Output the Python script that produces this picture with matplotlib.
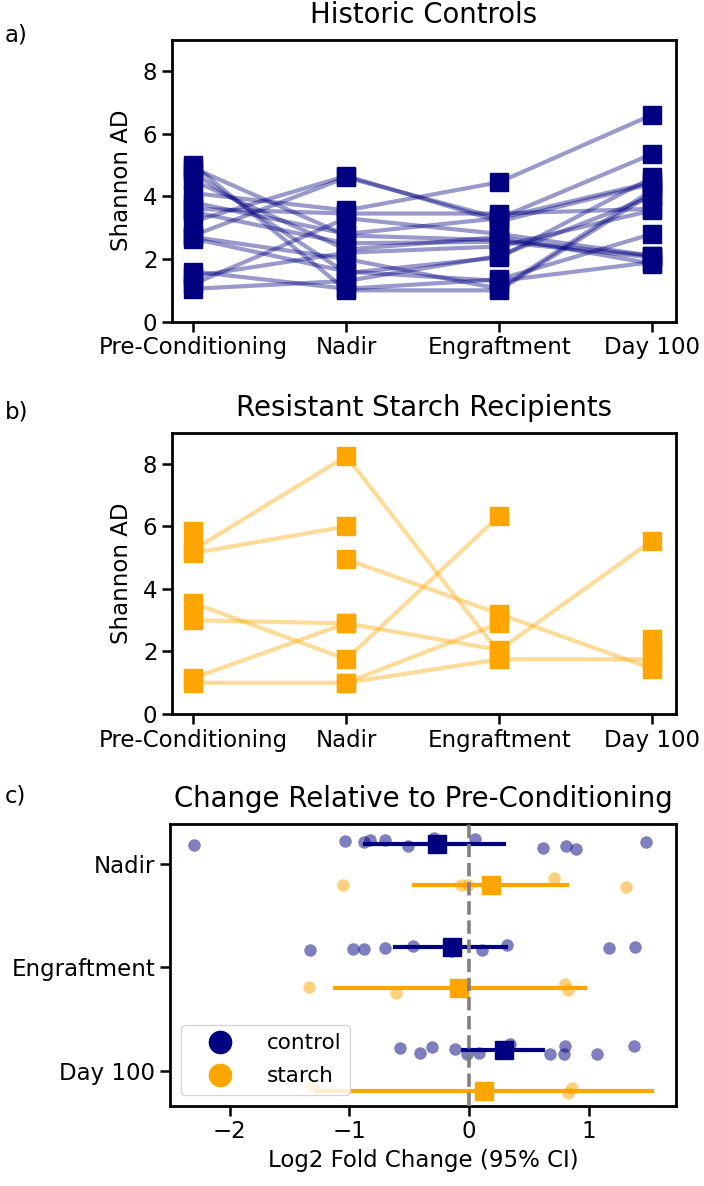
import numpy as np
import matplotlib
matplotlib.use("Agg")
import matplotlib.pyplot as plt
from matplotlib.lines import Line2D

timepoints = ["Pre-Conditioning", "Nadir", "Engraftment", "Day 100"]

# Shannon AD per subject (same index = same subject), historic controls
ctrl_pre = [5.0, 4.9, 4.75, 4.5, 4.1, 3.8, 3.6, 3.5, 3.2, 2.75, 2.65, 1.6, 1.45, 1.2, 1.05, 2.7]
ctrl_nadir = [1.0, 2.75, 1.55, 2.3, 3.55, 2.8, 3.45, 2.5, 4.65, 4.6, 1.6, 1.05, 2.2, 3.3, 1.3, 2.0]
ctrl_engraft = [1.0, 2.6, 2.05, 2.7, 4.45, 3.3, 3.45, 2.55, 3.2, 3.3, 1.3, 1.35, 2.4, 2.8, 2.1, 1.05]
ctrl_day100 = [4.1, 2.1, 4.6, 1.85, 6.6, 4.45, 3.6, 2.05, 4.4, 5.35, 1.9, 2.8, 3.55, 2.1, 4.0, 4.2]

# resistant starch recipients (nan = no sample)
nan = np.nan
starch_pre = [5.25, 5.15, 5.85, nan, 3.55, 3.0, 1.15, 1.0, nan, nan, nan, nan]
starch_nadir = [8.25, 6.0, nan, 4.95, 1.75, 2.9, 2.9, 1.0, 1.0, nan, nan, nan]
starch_engraft = [1.95, nan, nan, 3.2, 6.35, 2.05, nan, 2.9, 1.75, nan, nan, nan]
starch_day100 = [nan, nan, nan, 1.45, nan, 5.55, nan, nan, 1.75, nan, 2.4, 2.1]

# log2 fold change vs pre-conditioning
fc_labels = ["Nadir", "Engraftment", "Day 100"]
ctrl_fc = [
    [-2.30, -1.04, -0.88, -0.83, -0.70, -0.51, -0.29, 0.05, 0.62, 0.81, 0.89, 1.48],
    [-1.33, -0.97, -0.88, -0.70, -0.47, -0.15, 0.11, 0.32, 1.17, 1.39],
    [-0.58, -0.41, -0.31, -0.12, -0.02, 0.08, 0.34, 0.68, 0.79, 0.80, 1.07, 1.38],
]
starch_fc = [
    [-1.05, -0.07, -0.01, 0.71, 1.31],
    [-1.34, -0.61, 0.80, 0.83],
    [-1.31, 0.86, 0.83],
]
# strip jitter
ctrl_jit = [
    [0.016, -0.026, -0.016, -0.039, -0.032, 0.026, -0.058, -0.048, 0.039, 0.026, 0.048, -0.016],
    [0.032, 0.023, 0.026, 0.01, -0.006, 0.042, 0.032, -0.016, 0.016, 0.0],
    [-0.023, 0.026, -0.032, -0.013, 0.042, 0.026, -0.055, 0.035, 0.035, -0.039, 0.035, -0.039],
]
starch_jit = [
    [0.006, 0.0, 0.006, -0.065, 0.016],
    [-0.01, 0.048, -0.039, 0.016],
    [-0.055, -0.032, 0.019],
]
ctrl_mean = [-0.265, -0.145, 0.29]
ctrl_ci_lo = [-0.87, -0.62, -0.05]
ctrl_ci_hi = [0.29, 0.31, 0.62]
starch_mean = [0.18, -0.08, 0.125]
starch_ci_lo = [-0.46, -1.12, -1.28]
starch_ci_hi = [0.82, 0.97, 1.53]

plt.rcParams["font.size"] = 16.5
plt.rcParams["axes.linewidth"] = 2.0
for a in ("xtick", "ytick"):
    plt.rcParams[a + ".major.size"] = 7
    plt.rcParams[a + ".major.width"] = 1.8

W, H = 704, 1186
fig = plt.figure(figsize=(W / 100, H / 100), dpi=100)


def box(left, top, right, bottom):
    return [left / W, 1 - bottom / H, (right - left) / W, (bottom - top) / H]


ax1 = fig.add_axes(box(172, 39.5, 676, 321.7))
ax2 = fig.add_axes(box(172, 432.7, 676, 714))
ax3 = fig.add_axes(box(170, 824, 676, 1105.7))

x = np.arange(len(timepoints))


def traj(ax, cols, color):
    for vals in zip(*cols):
        ax.plot(x, vals, color=color, alpha=0.4, lw=3, zorder=2)
    for i, col in enumerate(cols):
        ax.plot([i] * len(col), col, ls="", marker="s", ms=13,
                color=color, zorder=3)
    ax.set_xticks(x)
    ax.set_xticklabels(timepoints)
    ax.set_xlim(-0.14, 3.155)
    ax.set_ylim(0, 9)
    ax.set_yticks([0, 2, 4, 6, 8])
    ax.set_ylabel("Shannon AD", labelpad=7)


traj(ax1, [ctrl_pre, ctrl_nadir, ctrl_engraft, ctrl_day100], "navy")
ax1.set_title("Historic Controls", pad=12)
traj(ax2, [starch_pre, starch_nadir, starch_engraft, starch_day100], "orange")
ax2.set_title("Resistant Starch Recipients", pad=12)

# panel c
for k in range(len(fc_labels)):
    yc = k - 0.2
    ys = k + 0.2
    ax3.scatter(ctrl_fc[k], [yc + j for j in ctrl_jit[k]], s=81,
                color="navy", alpha=0.5, lw=0, zorder=2)
    ax3.scatter(starch_fc[k], [ys + j for j in starch_jit[k]], s=81,
                color="orange", alpha=0.5, lw=0, zorder=2)
    ax3.plot([ctrl_ci_lo[k], ctrl_ci_hi[k]], [yc, yc], color="navy", lw=3, zorder=3)
    ax3.plot([starch_ci_lo[k], starch_ci_hi[k]], [ys, ys], color="orange", lw=3, zorder=3)
    ax3.plot(ctrl_mean[k], yc, marker="s", ms=13, color="navy", zorder=4)
    ax3.plot(starch_mean[k], ys, marker="s", ms=13, color="orange", zorder=4)

ax3.axvline(0, color="gray", ls="--", lw=2.6, zorder=5)
ax3.set_yticks(range(len(fc_labels)))
ax3.set_yticklabels(fc_labels)
ax3.set_ylim(2.34, -0.39)
ax3.set_xlim(-2.5, 1.73)
ax3.set_xticks([-2, -1, 0, 1])
ax3.set_xlabel("Log2 Fold Change (95% CI)")
ax3.set_title("Change Relative to Pre-Conditioning", pad=12)

handles = [Line2D([], [], ls="", marker="o", ms=16, color="navy"),
           Line2D([], [], ls="", marker="o", ms=16, color="orange")]
leg = ax3.legend(handles, ["control", "starch"], loc="lower left",
                 fontsize=15.5, handlelength=2.8, labelspacing=0.6)
leg.set_zorder(10)

fig.text(5 / W, 1 - 35 / H, "a)", va="center", ha="left")
fig.text(5 / W, 1 - 412 / H, "b)", va="center", ha="left")
fig.text(5 / W, 1 - 796 / H, "c)", va="center", ha="left")

fig.savefig("out.png", dpi=100)
